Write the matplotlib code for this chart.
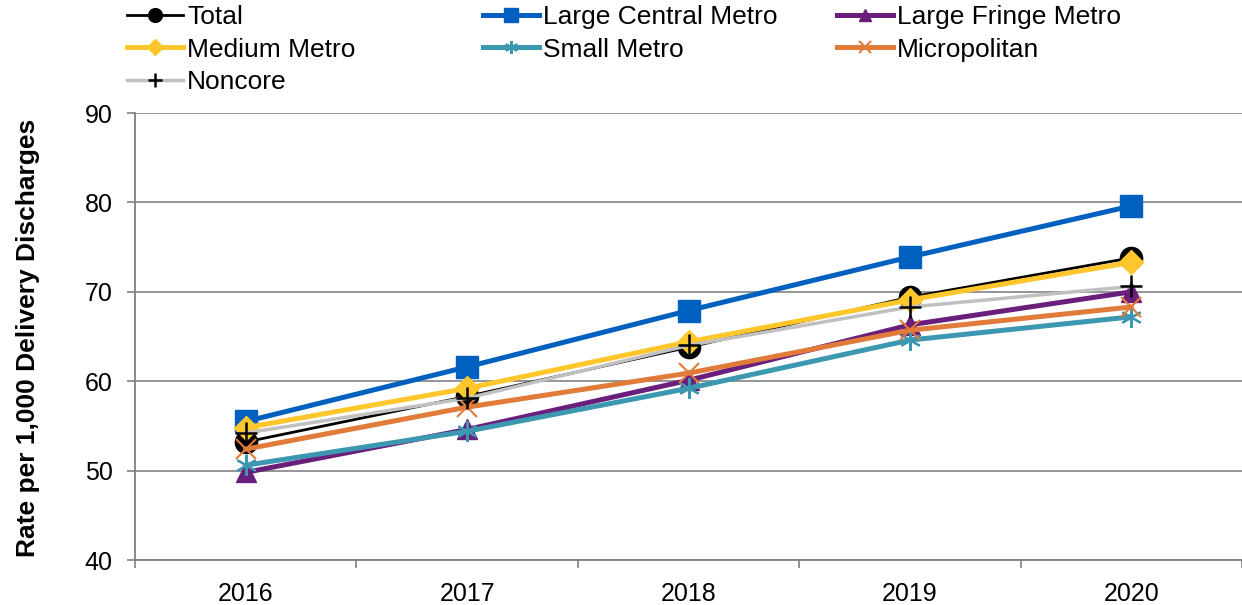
import matplotlib
matplotlib.use("Agg")
import matplotlib.pyplot as plt
from matplotlib.lines import Line2D

plt.rcParams['font.family'] = ['Liberation Sans', 'DejaVu Sans']

years = ["2016", "2017", "2018", "2019", "2020"]
total = [53.2, 58.3, 63.8, 69.4, 73.8]
large_central = [55.5, 61.6, 67.9, 73.9, 79.6]
large_fringe = [49.8, 54.6, 60.1, 66.3, 70.0]
medium_metro = [54.8, 59.2, 64.4, 69.1, 73.3]
small_metro = [50.6, 54.4, 59.2, 64.6, 67.2]
micropolitan = [52.4, 57.1, 60.9, 65.7, 68.3]
noncore = [54.2, 58.1, 64.0, 68.3, 70.6]

series = [
    ("Total", total, dict(color="black", lw=2.0, marker="o", ms=16, mfc="black", mec="black")),
    ("Large Central Metro", large_central, dict(color="#0060C0", lw=3.6, marker="s", ms=16.5, mfc="#0060C0", mec="#0060C0")),
    ("Large Fringe Metro", large_fringe, dict(color="#6B1F7C", lw=3.6, marker="^", ms=14, mfc="#6B1F7C", mec="#6B1F7C")),
    ("Medium Metro", medium_metro, dict(color="#FFC72C", lw=3.6, marker="D", ms=12.5, mfc="#FFC72C", mec="#FFC72C")),
    ("Small Metro", small_metro, dict(color="#3C97B0", lw=3.6, marker=(6, 2, 0), ms=15, mfc="#3C97B0", mec="#3C97B0", mew=1.5)),
    ("Micropolitan", micropolitan, dict(color="#E07B39", lw=3.6, marker="x", ms=14, mfc="#E07B39", mec="#E07B39", mew=1.5)),
    ("Noncore", noncore, dict(color="#C0C0C0", lw=2.5, marker="+", ms=16, mfc="black", mec="black", mew=1.8)),
]

fig = plt.figure(figsize=(12.42, 6.05), dpi=100)
ax = fig.add_axes([135/1242, 1 - 560/605, (1242 - 135)/1242, (560 - 113)/605])

x = list(range(len(years)))
handles = {}
for name, vals, st in series:
    ax.plot(x, vals, label=name, **st)
    handles[name] = Line2D([], [], **{**st, "ms": st["ms"] * 0.62})

ax.set_xlim(-0.5, 4.5)
ax.set_ylim(40, 90)
ax.set_yticks([40, 50, 60, 70, 80, 90])
ax.set_xticks(x)
ax.set_xticklabels(years)
ax.set_xticks([i - 0.5 for i in range(6)], minor=True)
ax.tick_params(axis="x", which="major", length=0, labelsize=18, pad=16, colors="black")
ax.tick_params(axis="x", which="minor", length=6, color="#808080", width=1.2)
ax.tick_params(axis="y", length=6, color="#808080", width=1.2, labelsize=18, pad=10, direction="out")
ax.grid(axis="y", color="#8C8C8C", lw=1.3)
ax.set_axisbelow(True)
for s in ["top", "right"]:
    ax.spines[s].set_visible(False)
for s in ["left", "bottom"]:
    ax.spines[s].set_color("#808080")
    ax.spines[s].set_linewidth(1.3)

ax.set_ylabel("Rate per 1,000 Delivery Discharges", fontsize=19, fontweight="bold")
ax.yaxis.set_label_coords((40 - 135) / 1107, 0.497)

cols = [
    (["Total", "Medium Metro", "Noncore"], 127),
    (["Large Central Metro", "Small Metro"], 483),
    (["Large Fringe Metro", "Micropolitan"], 837),
]
for names, xpix in cols:
    fig.legend([handles[n] for n in names], names, loc="upper left",
               bbox_to_anchor=(xpix / 1242, 1 - 5/605), frameon=False, fontsize=19,
               handlelength=2.12, handletextpad=0.15, labelspacing=0.33, borderpad=0.0,
               borderaxespad=0.0)

fig.savefig("out.png", dpi=100)
